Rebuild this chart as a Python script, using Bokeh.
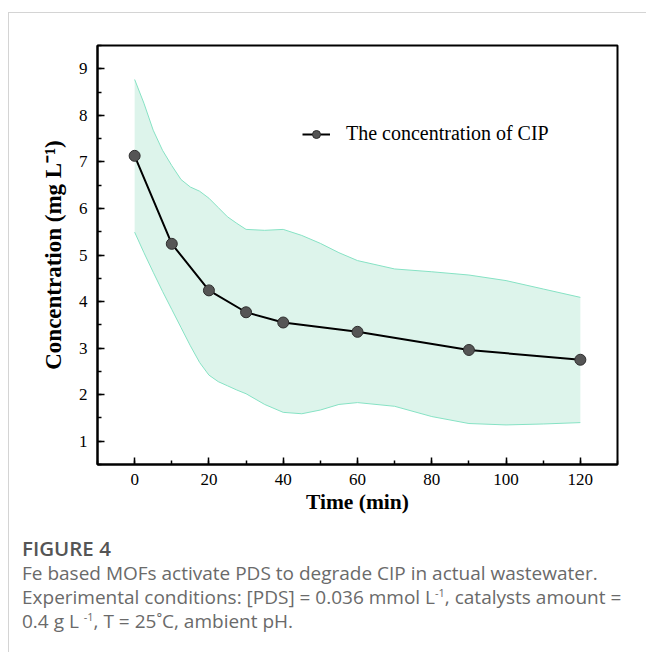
from bokeh.plotting import figure
from bokeh.models import (Range1d, SingleIntervalTicker, Legend, LegendItem, Div)
from bokeh.layouts import column
from bokeh.embed import file_html
from bokeh.resources import INLINE

# --- data ---
time_min = [0, 10, 20, 30, 40, 60, 90, 120]
conc = [7.13, 5.24, 4.24, 3.77, 3.55, 3.35, 2.96, 2.75]

band_t = [0, 2.5, 5, 7.5, 10, 12.5, 15, 17.5, 20, 22.5, 25, 27.5, 30, 35, 40,
          45, 50, 55, 60, 70, 80, 90, 100, 110, 120]
band_upper = [8.77, 8.26, 7.68, 7.25, 6.92, 6.62, 6.46, 6.37, 6.22, 6.02, 5.82,
              5.68, 5.55, 5.53, 5.55, 5.42, 5.25, 5.05, 4.88, 4.70, 4.64, 4.57,
              4.45, 4.27, 4.09]
band_lower = [5.49, 5.05, 4.63, 4.22, 3.83, 3.44, 3.05, 2.69, 2.42, 2.28, 2.19,
              2.10, 2.02, 1.79, 1.62, 1.59, 1.67, 1.79, 1.83, 1.75, 1.53, 1.38,
              1.35, 1.37, 1.40]

series_label = "The concentration of CIP"
x_label = "Time (min)"
y_label = "Concentration (mg L\u207b\u00b9)"

SERIF = "Liberation Serif"

p = figure(width=636, height=512, output_backend="svg", toolbar_location=None,
           x_range=Range1d(-10, 130), y_range=Range1d(0.5, 9.5),
           min_border_left=88, min_border_right=28, min_border_top=32,
           min_border_bottom=61)
p.background_fill_color = "white"
p.border_fill_color = "white"
p.outline_line_color = "black"
p.outline_line_width = 2
p.xgrid.visible = False
p.ygrid.visible = False

# band
p.varea(x=band_t, y1=band_lower, y2=band_upper, fill_color="#ddf4eb", fill_alpha=1.0)
p.line(band_t, band_upper, line_color="#86e2c4", line_width=1)
p.line(band_t, band_lower, line_color="#86e2c4", line_width=1)

# series
ln = p.line(time_min, conc, line_color="black", line_width=2)
sc = p.scatter(time_min, conc, size=11, fill_color="#555555", line_color="#2e2e2e",
               line_width=1)

for ax in (p.xaxis[0], p.yaxis[0]):
    ax.axis_line_color = "black"
    ax.axis_line_width = 2
    ax.major_tick_in = 7
    ax.major_tick_out = 0
    ax.minor_tick_in = 4
    ax.minor_tick_out = 0
    ax.major_tick_line_width = 1.5
    ax.minor_tick_line_width = 1.5
    ax.major_tick_line_color = "black"
    ax.minor_tick_line_color = "black"
    ax.major_label_text_font = SERIF
    ax.major_label_text_font_size = "17px"
    ax.major_label_text_color = "black"
    ax.axis_label_text_font = SERIF
    ax.axis_label_text_font_style = "bold"
    ax.axis_label_text_color = "black"

p.xaxis[0].axis_label_text_font_size = "21.5px"
p.yaxis[0].axis_label_text_font_size = "23px"
p.xaxis[0].ticker = SingleIntervalTicker(interval=20, num_minor_ticks=2)
p.yaxis[0].ticker = SingleIntervalTicker(interval=1, num_minor_ticks=2)
p.xaxis[0].axis_label = x_label
p.yaxis[0].axis_label = y_label
p.xaxis[0].major_label_standoff = 9
p.xaxis[0].axis_label_standoff = 2
p.yaxis[0].major_label_standoff = 10
p.yaxis[0].axis_label_standoff = 10

legend = Legend(items=[LegendItem(label=series_label, renderers=[ln, sc])],
                location=(205, 319), padding=0, margin=0, spacing=0,
                border_line_alpha=0, background_fill_alpha=0,
                label_text_font=SERIF, label_text_font_size="20px",
                label_text_color="black", glyph_width=28, glyph_height=20,
                label_standoff=16, label_height=20)
p.add_layout(legend)

caption_html = (
    '<div style="padding:5px 0 0 8px; font-family:\'Open Sans\', sans-serif; '
    'line-height:24px; white-space:nowrap;">'
    '<div style="font-size:20.5px; font-weight:600; color:#555555; line-height:26px;">FIGURE 4</div>'
    '<div style="font-size:19px; color:#6a6a6a;">'
    'Fe based MOFs activate PDS to degrade CIP in actual wastewater.<br>'
    'Experimental conditions: [PDS] = 0.036 mmol L<sup style="font-size:11px; line-height:0;">-1</sup>, catalysts amount =<br>'
    '0.4 g L <sup style="font-size:11px; line-height:0;">-1</sup>, T = 25\u02daC, ambient pH.'
    '</div></div>'
)
caption = Div(text=caption_html, width=636, height=120)

layout = column(p, caption, margin=(12, 0, 0, 8),
                styles={"border-top": "1px solid #d4d4d4",
                        "border-left": "1px solid #d4d4d4"})

open("out.html", "w").write(file_html(layout, INLINE))
